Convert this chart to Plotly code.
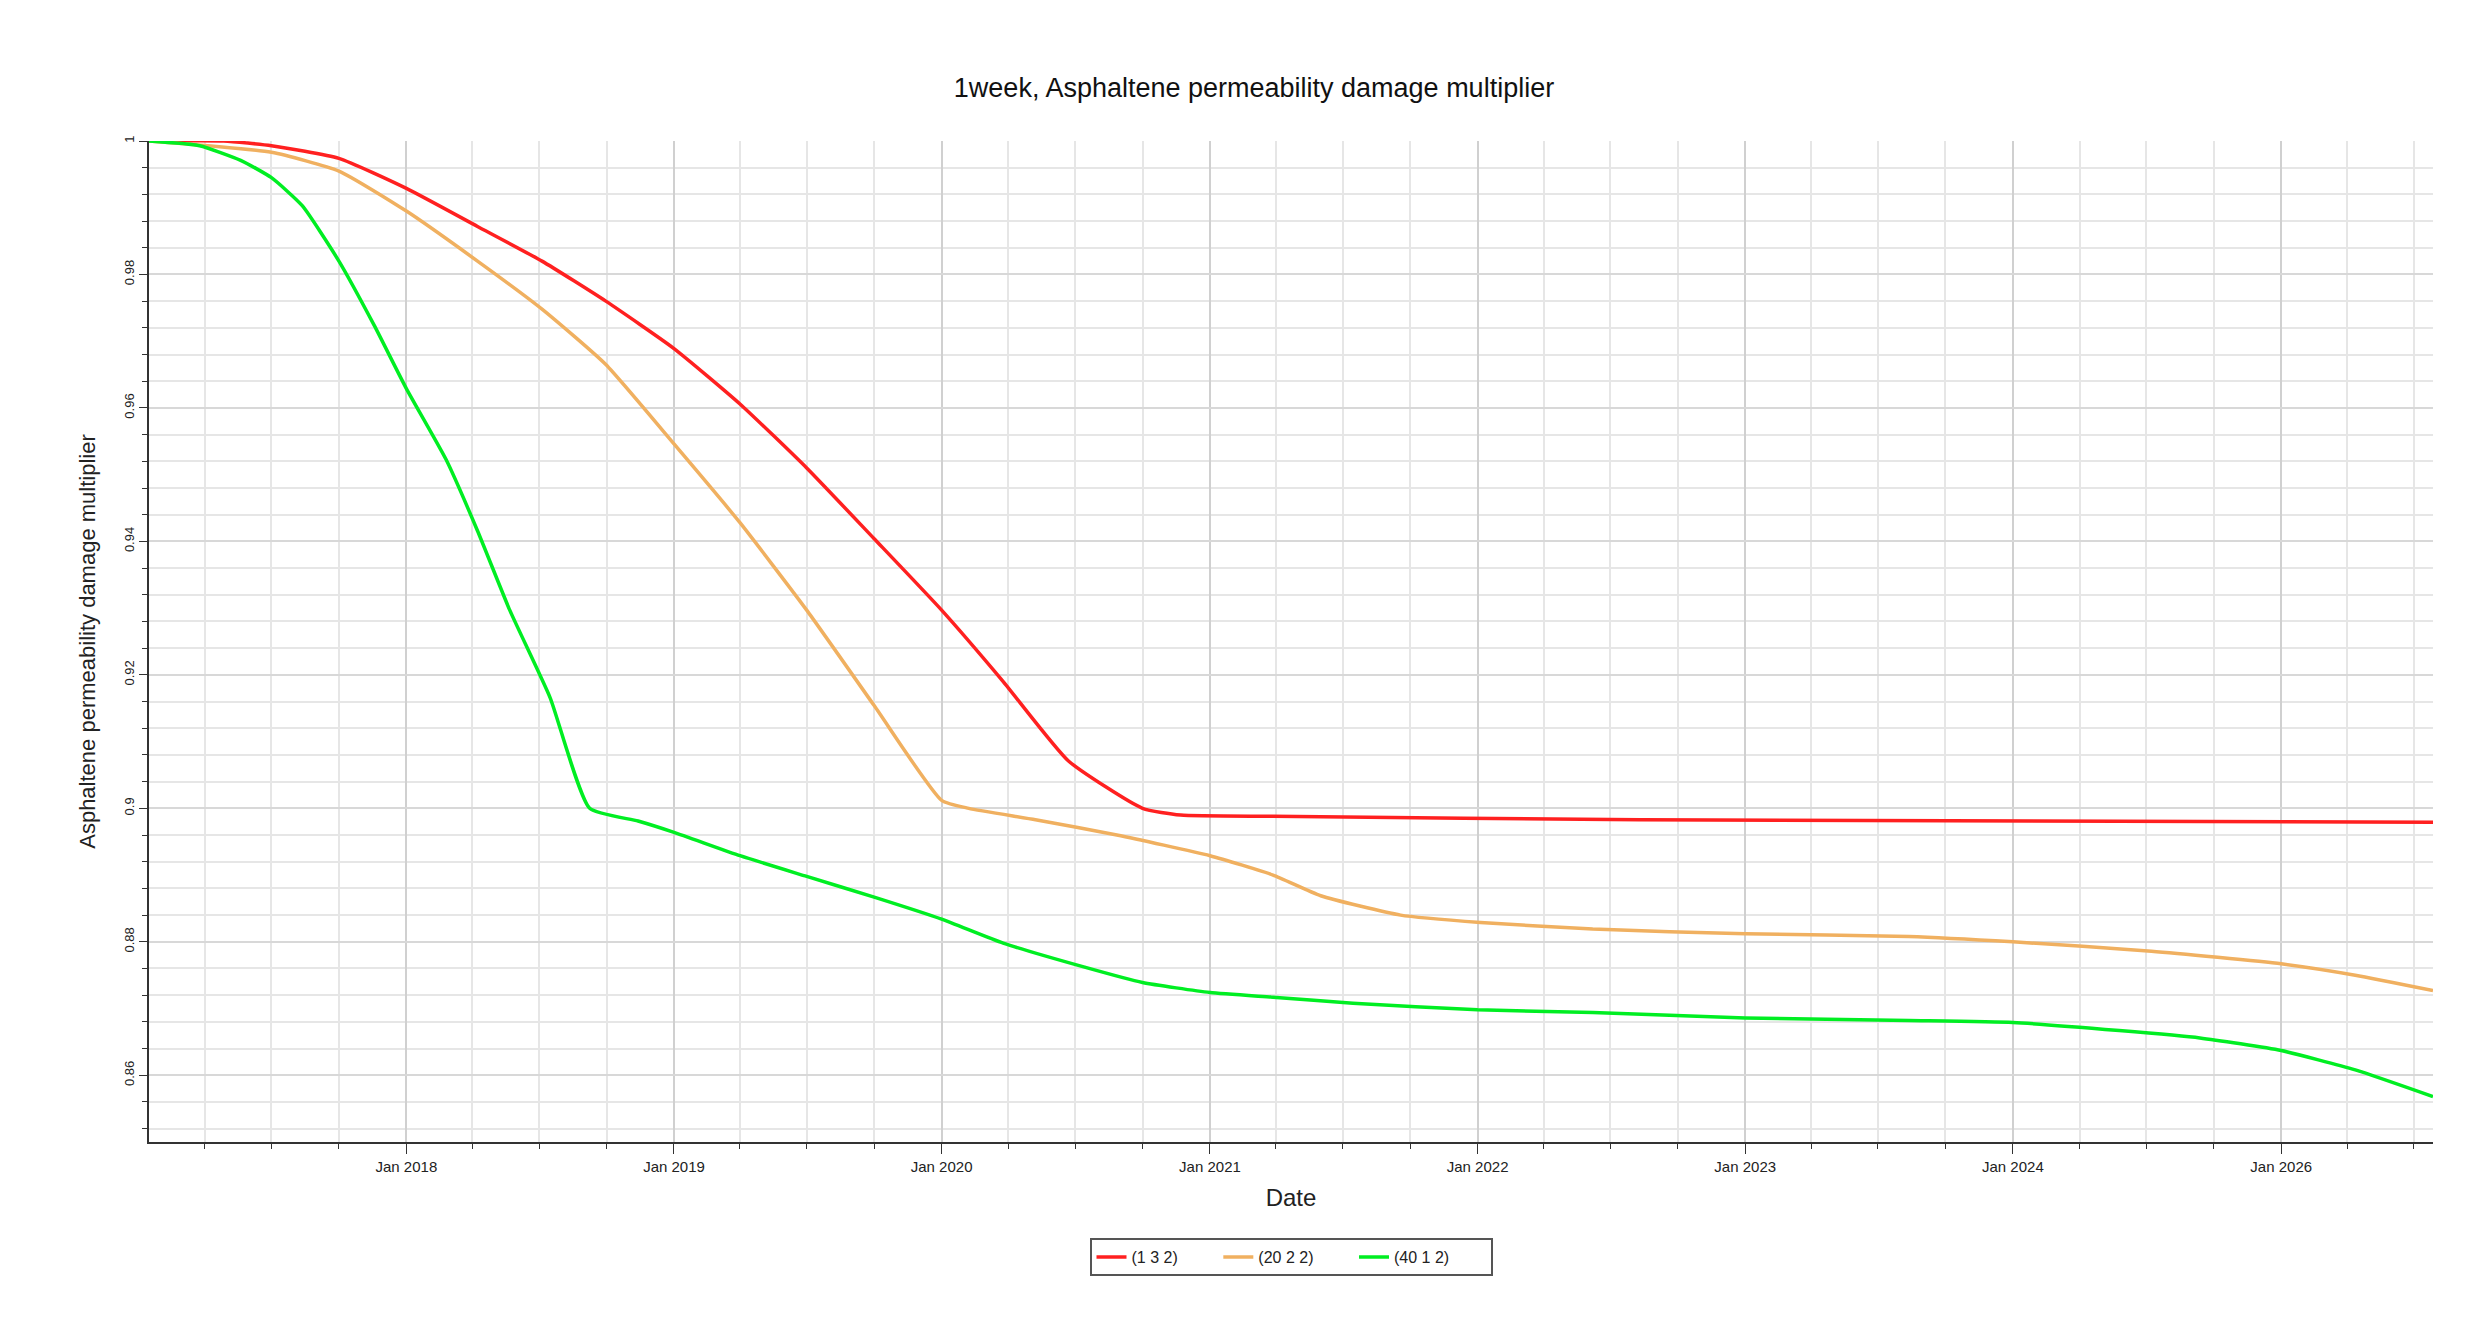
import plotly.graph_objects as go

red_dates = ["2017-01-15","2017-04-27","2017-07-01","2017-10-01","2018-01-01","2018-04-08","2018-07-05","2018-09-30","2019-01-01","2019-04-01","2019-07-01","2019-10-01","2020-01-01","2020-03-25","2020-06-22","2020-10-01","2020-11-22","2021-03-28","2022-08-10","2025-07-27"]
red_vals = [1.0,1.0,0.9993,0.9974,0.9929,0.9872,0.982,0.976,0.9689,0.9606,0.951,0.9404,0.9297,0.919,0.9071,0.9,0.899,0.8988,0.8983,0.8979]

orange_dates = ["2017-01-15","2017-07-01","2017-10-01","2018-01-01","2018-04-08","2018-07-05","2018-09-30","2019-01-01","2019-04-01","2019-07-01","2019-10-01","2020-01-01","2020-02-07","2020-05-08","2020-08-27","2021-01-01","2021-03-28","2021-06-01","2021-09-18","2022-01-05","2022-06-07","2023-01-01","2023-08-12","2024-01-01","2024-07-08","2025-01-01","2025-04-12","2025-07-27"]
orange_vals = [1.0,0.9983,0.9955,0.9895,0.982,0.9748,0.9665,0.9546,0.9428,0.9297,0.9154,0.9012,0.9,0.8983,0.896,0.8929,0.89,0.8869,0.884,0.8829,0.8819,0.8812,0.8808,0.88,0.8786,0.8767,0.875,0.8727]

green_dates = ["2017-01-15","2017-03-25","2017-05-20","2017-07-01","2017-08-12","2017-10-01","2017-11-18","2018-01-01","2018-02-24","2018-04-08","2018-05-22","2018-07-16","2018-09-08","2018-11-13","2019-01-01","2019-04-01","2019-07-01","2019-10-01","2020-01-01","2020-03-25","2020-07-14","2020-10-01","2021-01-01","2021-03-28","2021-07-15","2022-01-01","2022-06-07","2023-01-01","2023-08-12","2024-01-01","2024-05-25","2024-09-12","2025-01-01","2025-04-12","2025-07-27"]
green_vals = [1.0,0.9993,0.9971,0.9945,0.9903,0.982,0.9724,0.9629,0.9523,0.9416,0.9297,0.9166,0.9,0.8981,0.8964,0.8929,0.8898,0.8867,0.8834,0.8798,0.8762,0.8739,0.8724,0.8717,0.8708,0.8698,0.8694,0.8686,0.8682,0.8679,0.8667,0.8656,0.8637,0.8608,0.8568]

x_tick_vals = ["2018-01-01","2019-01-01","2020-01-01","2021-01-01","2022-01-01","2023-01-01","2024-01-01","2025-01-01"]
x_tick_text = ["Jan 2018","Jan 2019","Jan 2020","Jan 2021","Jan 2022","Jan 2023","Jan 2024","Jan 2026"]
y_tick_vals = [0.86,0.88,0.9,0.92,0.94,0.96,0.98,1.0]
y_tick_text = ["0.86","0.88","0.9","0.92","0.94","0.96","0.98","1"]

fig = go.Figure()
for name, d, v, c in [("(1 3 2)", red_dates, red_vals, "#ff2020"),
                      ("(20 2 2)", orange_dates, orange_vals, "#f0b060"),
                      ("(40 1 2)", green_dates, green_vals, "#00ee22")]:
    fig.add_trace(go.Scatter(x=d, y=v, mode="lines", name=name + "        ",
                             line=dict(color=c, width=3.5, shape="spline", smoothing=0.5)))

fig.update_layout(
    width=2492, height=1328, paper_bgcolor="white", plot_bgcolor="white",
    margin=dict(l=141, r=67, t=133, b=194),
    font=dict(family="Liberation Sans, Arial", color="#222"),
    title=dict(text="1week, Asphaltene permeability damage multiplier", x=0.5, xanchor="center",
               y=0.94, yanchor="middle", font=dict(size=27, color="#111")),
    legend=dict(orientation="h", x=0.5, xanchor="center", y=-0.115, yanchor="middle",
                bordercolor="#555", borderwidth=2, font=dict(size=16)),
    showlegend=True,
)
fig.update_xaxes(range=["2017-01-15","2025-07-27"], tickvals=x_tick_vals, ticktext=x_tick_text,
                 tickfont=dict(size=15), showline=True, linecolor="#333", linewidth=2,
                 ticks="outside", ticklen=10, tickcolor="#333",
                 showgrid=True, gridcolor="#d0d0d0", gridwidth=2,
                 minor=dict(dtick="M3", showgrid=True, gridcolor="#e6e6e6", gridwidth=2,
                            ticks="outside", ticklen=5, tickcolor="#333"),
                 title=dict(text="Date", font=dict(size=24)), zeroline=False, mirror=False)
fig.update_yaxes(range=[0.85, 1.0], tickvals=y_tick_vals, ticktext=y_tick_text,
                 tickfont=dict(size=13), tickangle=-90, showline=True, linecolor="#333", linewidth=2,
                 ticks="outside", ticklen=8, tickcolor="#333",
                 showgrid=True, gridcolor="#d8d8d8", gridwidth=2,
                 minor=dict(dtick=0.004, showgrid=True, gridcolor="#e6e6e6", gridwidth=2,
                            ticks="outside", ticklen=5, tickcolor="#333"),
                 title=dict(text="Asphaltene permeability damage multiplier", font=dict(size=22), standoff=20),
                 zeroline=False)
fig.write_html("out.html")
